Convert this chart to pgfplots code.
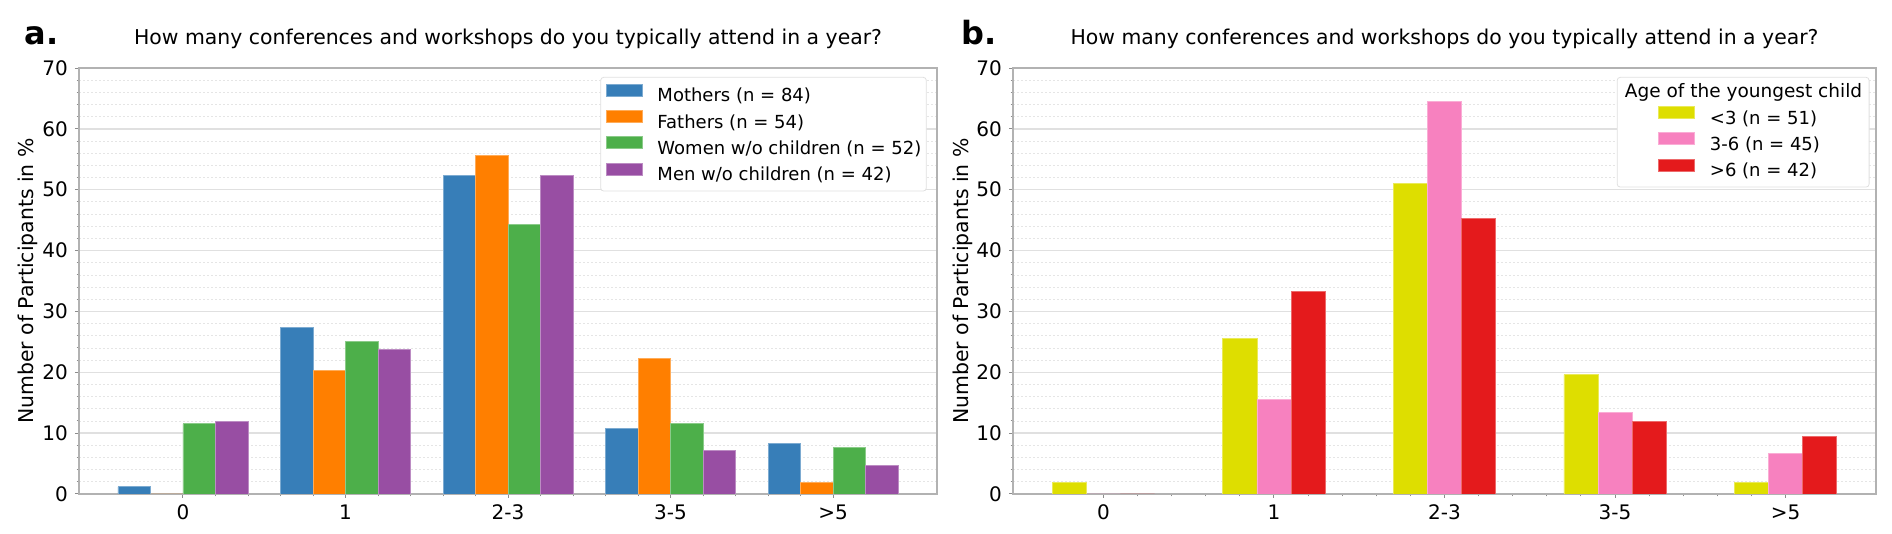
\documentclass[border=0pt]{standalone}
\usepackage{pgfplots}
\pgfplotsset{compat=1.18}
\usepackage{fontspec}
\setmainfont{DejaVu Sans}
\definecolor{cblue}{HTML}{377EB8}
\definecolor{corange}{HTML}{FF7F00}
\definecolor{cgreen}{HTML}{4DAF4A}
\definecolor{cpurple}{HTML}{984EA3}
\definecolor{cyellow}{HTML}{DEDE00}
\definecolor{cpink}{HTML}{F781BF}
\definecolor{cred}{HTML}{E41A1C}
\pgfplotsset{
 panel/.style={
  scale only axis, height=213pt, anchor=south west,
  ybar=0pt, bar width=0.2,
  ymin=0, ymax=70,
  xtick={0,...,4}, xticklabels={0,1,2-3,3-5,>5},
  ytick={0,10,...,70}, minor y tick num=4, minor x tick num=4,
  ymajorgrids, yminorgrids,
  major grid style={black!12, line width=0.7pt},
  minor grid style={black!10, line width=0.4pt, dash pattern=on 1pt off 1pt},
  tick pos=left, tick align=outside,
  major tick length=2pt, minor tick length=1.2pt,
  tick style={black!45, line width=0.5pt},
  axis line style={black!30, line width=0.7pt},
  ticklabel style={font=\fontsize{10}{12}\selectfont},
  /pgf/number format/assume math mode=true,
  title style={font=\fontsize{10.2}{12}\selectfont, at={(0.5,1)}, anchor=base, yshift=6pt},
  legend style={anchor=north east, draw=black!12, rounded corners=1.5pt,
    fill=white,
    font=\fontsize{9}{11}\selectfont, inner ysep=3.2pt, row sep=2.15pt,
    nodes={inner sep=0pt, text height=7pt, text depth=2pt},
    cells={anchor=west}},
  legend cell align=left,
 },
 bars/.style={fill=#1, draw=#1!65!white, line width=0.4pt},
}
\begin{document}
\begin{tikzpicture}
\useasboundingbox (0,0) rectangle (946pt,267pt);
\node[anchor=base west, inner sep=0pt, font=\fontsize{16}{18}\selectfont\bfseries] at (12pt,244.5pt) {a.};
\node[anchor=base west, inner sep=0pt, font=\fontsize{16}{18}\selectfont\bfseries] at (480.5pt,244.75pt) {b.};
\begin{axis}[panel, at={(39.5pt,20pt)}, width=429pt,
  xmin=-0.64, xmax=4.64,
  title={How many conferences and workshops do you typically attend in a year?},
  ylabel={Number of Participants in \%},
  every axis y label/.style={at={(axis description cs:-0.0594,0.5)}, rotate=90, anchor=center, font=\fontsize{10.2}{12}\selectfont},
  legend style={at={(0.988,0.979)}, inner xsep=2.5pt},
  legend image code/.code={\path (0pt,0pt) (25.5pt,0pt); \fill[#1, sharp corners] (0pt,0.3pt) rectangle (18pt,6.3pt);},
]
\addplot[bars=cblue, bar shift=-0.3] coordinates {(0,1.19) (1,27.38) (2,52.38) (3,10.71) (4,8.33)};
\addlegendentry{Mothers (n = 84)}
\addplot[bars=corange, bar shift=-0.1] coordinates {(0,0) (1,20.37) (2,55.56) (3,22.22) (4,1.85)};
\addlegendentry{Fathers (n = 54)}
\addplot[bars=cgreen, bar shift=0.1] coordinates {(0,11.54) (1,25.00) (2,44.23) (3,11.54) (4,7.69)};
\addlegendentry{Women w/o children (n = 52)}
\addplot[bars=cpurple, bar shift=0.3] coordinates {(0,11.90) (1,23.81) (2,52.38) (3,7.14) (4,4.76)};
\addlegendentry{Men w/o children (n = 42)}
\end{axis}
\begin{axis}[panel, at={(506.5pt,20pt)}, width=431.5pt,
  xmin=-0.53, xmax=4.53,
  title={How many conferences and workshops do you typically attend in a year?},
  ylabel={Number of Participants in \%},
  every axis y label/.style={at={(axis description cs:-0.058,0.5)}, rotate=90, anchor=center, font=\fontsize{10.2}{12}\selectfont},
  legend style={at={(0.9925,0.979)}, inner xsep=3.5pt},
  legend image code/.code={\path (-17pt,0pt) (25.5pt,0pt); \fill[#1, sharp corners] (0pt,0.3pt) rectangle (18pt,6.3pt);},
]
\addlegendimage{empty legend}
\addlegendentry{\hspace*{-42.5pt}\fontsize{9.25}{11}\selectfont Age of the youngest child}
\addplot[bars=cyellow, bar shift=-0.2] coordinates {(0,1.96) (1,25.49) (2,50.98) (3,19.61) (4,1.96)};
\addlegendentry{<3 (n = 51)}
\addplot[bars=cpink, bar shift=0] coordinates {(0,0) (1,15.56) (2,64.44) (3,13.33) (4,6.67)};
\addlegendentry{3-6 (n = 45)}
\addplot[bars=cred, bar shift=0.2] coordinates {(0,0) (1,33.33) (2,45.24) (3,11.90) (4,9.52)};
\addlegendentry{>6 (n = 42)}
\end{axis}
\end{tikzpicture}
\end{document}
